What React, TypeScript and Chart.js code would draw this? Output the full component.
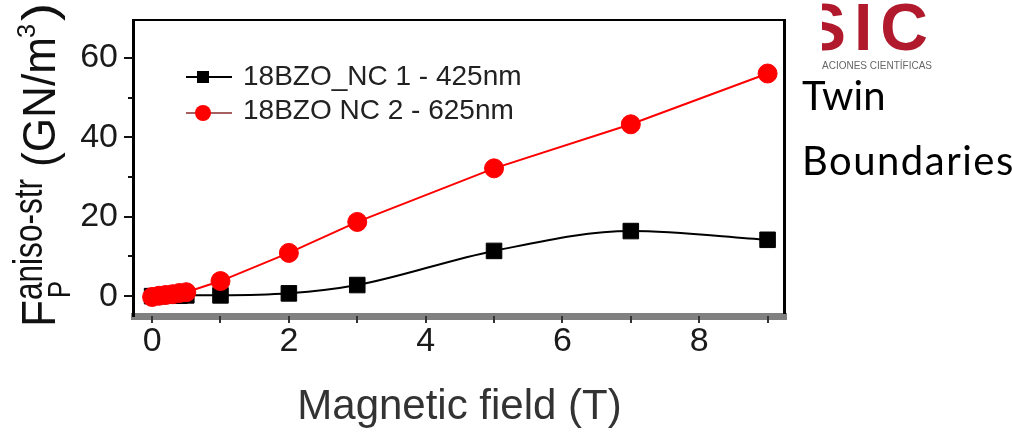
import React, { useEffect, useRef } from 'react';
import { Chart, registerables } from 'chart.js';

Chart.register(...registerables);

// ---- data ----
const fieldNC1 = [0, 0.1, 0.2, 0.3, 0.4, 0.5, 1, 2, 3, 5, 7, 9];
const anisoNC1 = [0, 0, 0.1, 0.1, 0.1, 0.2, 0.2, 0.7, 2.8, 11.4, 16.4, 14.2];
const fieldNC2 = [0, 0.1, 0.2, 0.3, 0.4, 0.5, 1, 2, 3, 5, 7, 9];
const anisoNC2 = [-0.2, 0.1, 0.3, 0.5, 0.8, 1.0, 3.8, 10.9, 18.7, 32.2, 43.3, 56.1];
const seriesNames = ['18BZO_NC 1 - 425nm', '18BZO NC 2 - 625nm'];
const xTickValues = [0, 1, 2, 3, 4, 5, 6, 7, 8, 9];
const yTickValues = [0, 10, 20, 30, 40, 50, 60];
const xTitle = 'Magnetic field (T)';
const yTitleMain = 'F';
const yTitleSub = 'P';
const yTitleSup = 'aniso-str';
const yTitleUnit = '(GN/m';
const yTitleUnitSup = '3';
const yTitleClose = ')';
const sideLine1 = 'Twin';
const sideLine2 = 'Boundaries';
const logoText = 'SIC';
const logoSub = 'ACIONES CIENTÍFICAS';

const FONT = '"Liberation Sans", Arial, sans-serif';

export default function App() {
  const ref = useRef<HTMLCanvasElement>(null);

  useEffect(() => {
    document.body.style.margin = '0';
    const canvas = ref.current!;

    const decor = {
      id: 'decor',
      afterDraw(chart: any) {
        const ctx = chart.ctx as CanvasRenderingContext2D;
        const xs = chart.scales.x;
        const ys = chart.scales.y;
        ctx.save();
        // frame
        ctx.fillStyle = '#808080';
        ctx.fillRect(131, 313, 656, 7);
        ctx.fillStyle = '#000';
        ctx.fillRect(132, 19, 3, 298);
        ctx.fillRect(132, 19, 654, 2);
        ctx.fillRect(783, 19, 3, 295);
        // x ticks
        ctx.fillStyle = '#333';
        for (const v of xTickValues) {
          const px = Math.round(xs.getPixelForValue(v));
          ctx.fillRect(px - 1, 316, 2, 7);
        }
        // y ticks
        ctx.fillStyle = '#111';
        for (const v of yTickValues) {
          const py = Math.round(ys.getPixelForValue(v));
          if (v % 20 === 0) ctx.fillRect(124, py - 1, 9, 2);
          else ctx.fillRect(128, py - 1, 5, 2);
        }
        // legend
        ctx.strokeStyle = '#000';
        ctx.lineWidth = 2;
        ctx.beginPath();
        ctx.moveTo(186, 77);
        ctx.lineTo(232, 77);
        ctx.stroke();
        ctx.fillStyle = '#000';
        ctx.fillRect(197, 71, 12, 12);
        ctx.strokeStyle = '#8b2a2a';
        ctx.lineWidth = 1.5;
        ctx.beginPath();
        ctx.moveTo(186, 113);
        ctx.lineTo(232, 113);
        ctx.stroke();
        ctx.fillStyle = '#ff0000';
        ctx.beginPath();
        ctx.arc(203, 113, 8, 0, Math.PI * 2);
        ctx.fill();
        ctx.fillStyle = '#222';
        ctx.font = `28px ${FONT}`;
        ctx.textBaseline = 'alphabetic';
        ctx.textAlign = 'left';
        ctx.fillText(seriesNames[0], 243, 85);
        ctx.fillText(seriesNames[1], 243, 119);

        // y title (rotated, with sub/superscripts)
        const parts = [
          { t: yTitleMain, size: 48, from: 0, to: 27, dy: 0 },
          { t: yTitleSub, size: 32, from: 29, to: 46, dy: 15 },
          { t: yTitleSup, size: 40, from: 27, to: 148, dy: -13 },
          { t: yTitleUnit, size: 46, from: 160, to: 290, dy: 0 },
          { t: yTitleUnitSup, size: 26, from: 289, to: 303, dy: -20 },
          { t: yTitleClose, size: 46, from: 306, to: 324, dy: 0 },
        ];
        ctx.translate(55, 327);
        ctx.rotate(-Math.PI / 2);
        ctx.fillStyle = '#111';
        for (const p of parts) {
          ctx.font = `${p.size}px ${FONT}`;
          const w = ctx.measureText(p.t).width;
          const s = (p.to - p.from) / w;
          ctx.save();
          ctx.translate(p.from, p.dy);
          ctx.scale(s, 1);
          ctx.fillText(p.t, 0, 0);
          ctx.restore();
        }
        ctx.restore();
      },
    };

    const chart = new Chart(canvas, {
      type: 'line',
      data: {
        datasets: [
          {
            label: seriesNames[0],
            data: fieldNC1.map((x, i) => ({ x, y: anisoNC1[i] })),
            borderColor: '#000',
            backgroundColor: '#000',
            borderWidth: 2,
            pointStyle: 'rect',
            pointRadius: 11,
            pointBackgroundColor: '#000',
            pointBorderColor: '#000',
            pointBorderWidth: 1,
            cubicInterpolationMode: 'monotone',
            order: 1,
          },
          {
            label: seriesNames[1],
            data: fieldNC2.map((x, i) => ({ x, y: anisoNC2[i] })),
            borderColor: '#ff0000',
            backgroundColor: '#ff0000',
            borderWidth: 2,
            pointStyle: 'circle',
            pointRadius: 9.5,
            pointBackgroundColor: '#ff0000',
            pointBorderColor: '#ff0000',
            pointBorderWidth: 1,
            tension: 0,
            order: 0,
          },
        ],
      },
      options: {
        responsive: false,
        animation: false,
        devicePixelRatio: 1,
        layout: { padding: { left: 0, top: 20, right: 228, bottom: 0 } },
        plugins: {
          legend: { display: false },
          tooltip: { enabled: false },
          title: { display: false },
        },
        scales: {
          x: {
            type: 'linear',
            min: -0.25,
            max: 9.24,
            afterFit: (s: any) => {
              s.height = 124;
            },
            afterBuildTicks: (s: any) => {
              s.ticks = xTickValues.map((v) => ({ value: v }));
            },
            ticks: {
              callback: (v: any) => (Number(v) % 2 === 0 ? String(v) : ''),
              font: { family: FONT, size: 34 },
              color: '#1a1a1a',
              padding: 6,
              maxRotation: 0,
              autoSkip: false,
            },
            grid: { display: false, drawTicks: false },
            border: { display: false },
            title: {
              display: true,
              text: xTitle,
              font: { family: FONT, size: 42 },
              color: '#333',
              padding: { top: 0, bottom: 6 },
            },
          },
          y: {
            type: 'linear',
            min: -4.75,
            max: 65.2,
            afterFit: (s: any) => {
              s.width = 135;
            },
            afterBuildTicks: (s: any) => {
              s.ticks = yTickValues.map((v) => ({ value: v }));
            },
            ticks: {
              callback: (v: any) => (Number(v) % 20 === 0 ? String(v) : ''),
              font: { family: FONT, size: 34 },
              color: '#1a1a1a',
              padding: 17,
              autoSkip: false,
            },
            grid: { display: false, drawTicks: false },
            border: { display: false },
          },
        },
      },
      plugins: [decor],
    } as any);

    return () => chart.destroy();
  }, []);

  return (
    <div
      style={{
        position: 'absolute',
        left: 0,
        top: 0,
        width: 1012,
        height: 439,
        overflow: 'hidden',
        background: '#fff',
      }}
    >
      <canvas
        ref={ref}
        width={1012}
        height={439}
        style={{ position: 'absolute', left: 0, top: 0, width: 1012, height: 439 }}
      />
      <div
        style={{
          position: 'absolute',
          left: 822,
          top: 0,
          width: 112,
          height: 58,
          overflow: 'hidden',
        }}
      >
        <span
          style={{
            position: 'absolute',
            left: -20,
            top: -6,
            fontFamily: FONT,
            fontWeight: 'bold',
            fontSize: 66,
            lineHeight: '66px',
            color: '#b01a2c',
            letterSpacing: 8,
            whiteSpace: 'nowrap',
          }}
        >
          {logoText}
        </span>
      </div>
      <div
        style={{
          position: 'absolute',
          left: 822,
          top: 60,
          fontFamily: FONT,
          fontSize: 10,
          lineHeight: '12px',
          color: '#666',
          whiteSpace: 'nowrap',
        }}
      >
        {logoSub}
      </div>
      <div
        style={{
          position: 'absolute',
          left: 802,
          top: 74.5,
          fontFamily: 'Lato, "Open Sans", sans-serif',
          fontSize: 40,
          lineHeight: '40px',
          color: '#000',
          whiteSpace: 'nowrap',
        }}
      >
        {sideLine1}
      </div>
      <div
        style={{
          position: 'absolute',
          left: 802,
          top: 139.5,
          fontFamily: 'Lato, "Open Sans", sans-serif',
          fontSize: 40,
          lineHeight: '40px',
          letterSpacing: 1.5,
          color: '#000',
          whiteSpace: 'nowrap',
        }}
      >
        {sideLine2}
      </div>
    </div>
  );
}
